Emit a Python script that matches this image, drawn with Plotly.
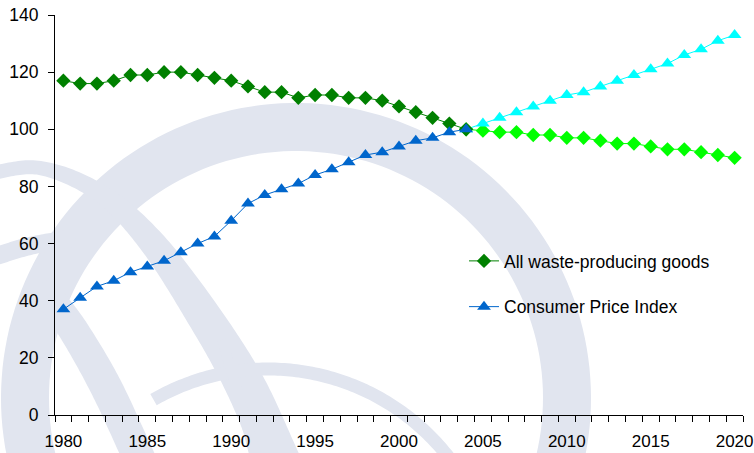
import numpy as np
import plotly.graph_objects as go

# ---- data -------------------------------------------------------------
years_hist = list(range(1980, 2005))
years_proj = list(range(2004, 2021))

waste_hist = [117, 116, 116, 117, 119, 119, 120, 120, 119, 118, 117, 115, 113,
              113, 111, 112, 112, 111, 111, 110, 108, 106, 104, 102, 100]
waste_proj = [100, 99.5, 99, 99, 98, 98, 97, 97, 96, 95, 95, 94, 93, 93, 92, 91, 90]

cpi_hist = [37, 41, 45, 47, 50, 52, 54, 57, 60, 62.5, 68, 74, 77, 79, 81, 84,
            86, 88.5, 91, 92, 94, 96, 97, 99, 100]
cpi_proj = [100, 102, 104, 106, 108, 110, 112, 113, 115, 117, 119, 121, 123,
            126, 128, 131, 133]

x_labels = [1980, 1985, 1990, 1995, 2000, 2005, 2010, 2015, 2020]

# ---- layout geometry --------------------------------------------------
W, H = 754, 453
ML, MR, MT, MB = 55, 11, 15, 38
PW, PH = W - ML - MR, H - MT - MB

WM_COLOR = "#e1e5ef"


def to_paper(px, py):
    return (px - ML) / PW, (H - MB - py) / PH


def catmull(points, n=24):
    pts = [np.array(p, float) for p in points]
    pts = [pts[0] * 2 - pts[1]] + pts + [pts[-1] * 2 - pts[-2]]
    out = []
    for i in range(1, len(pts) - 2):
        p0, p1, p2, p3 = pts[i - 1], pts[i], pts[i + 1], pts[i + 2]
        for t in np.linspace(0, 1, n, endpoint=False):
            t2, t3 = t * t, t * t * t
            out.append(0.5 * ((2 * p1) + (-p0 + p2) * t +
                              (2 * p0 - 5 * p1 + 4 * p2 - p3) * t2 +
                              (-p0 + 3 * p1 - 3 * p2 + p3) * t3))
    out.append(pts[-2])
    return np.array(out)


def band_path(center, widths):
    c = np.asarray(center, float)
    w = np.interp(np.linspace(0, 1, len(c)), np.linspace(0, 1, len(widths)), widths)
    d = np.gradient(c, axis=0)
    d /= np.linalg.norm(d, axis=1)[:, None]
    nrm = np.stack([-d[:, 1], d[:, 0]], axis=1)
    a = c + nrm * (w[:, None] / 2)
    b = c - nrm * (w[:, None] / 2)
    poly = np.vstack([a, b[::-1]])
    coords = [to_paper(x, y) for x, y in poly]
    return "M " + " L ".join(f"{x:.4f},{y:.4f}" for x, y in coords) + " Z"


def arc(cx, cy, r, t0, t1, n=120):
    t = np.radians(np.linspace(t0, t1, n))
    return np.stack([cx + r * np.cos(t), cy - r * np.sin(t)], axis=1)


# watermark globe: arcs and meridians
bands = [
    (arc(296, 398, 271, 205, -25), [48]),
    (catmull([(-15, 174), (40, 168), (100, 193), (150, 240), (200, 310),
              (245, 385), (280, 465)]), [14, 14, 18, 26, 34, 40, 44]),
    (catmull([(-10, 258), (30, 246), (75, 238)]), [18, 18, 18]),
    (catmull([(40, 285), (70, 325), (105, 385), (140, 460)]), [26, 30, 32, 32]),
    (arc(268, 598, 229, 120, 28), [13]),
    (catmull([(222, 340), (240, 400), (258, 465)]), [10, 10, 12]),
]

shapes = [dict(type="path", xref="paper", yref="paper", layer="below",
               path=band_path(c, w), fillcolor=WM_COLOR,
               line=dict(width=0)) for c, w in bands]

# ---- traces -----------------------------------------------------------
DARK_GREEN = "#008000"
LIGHT_GREEN = "#00ff00"
BLUE = "#0066cc"
CYAN = "#00ffff"

DIAMOND = 11
TRIANGLE = 12

fig = go.Figure()

fig.add_trace(go.Scatter(
    x=years_proj, y=waste_proj, mode="lines+markers", showlegend=False,
    line=dict(color=LIGHT_GREEN, width=1),
    marker=dict(symbol="diamond", size=DIAMOND, color=LIGHT_GREEN)))
fig.add_trace(go.Scatter(
    x=years_proj, y=cpi_proj, mode="lines+markers", showlegend=False,
    line=dict(color=CYAN, width=1),
    marker=dict(symbol="triangle-up", size=TRIANGLE, color=CYAN)))
fig.add_trace(go.Scatter(
    x=years_hist, y=waste_hist, mode="lines+markers",
    name="All waste-producing goods", legendgroup="a",
    line=dict(color=DARK_GREEN, width=1),
    marker=dict(symbol="diamond", size=DIAMOND, color=DARK_GREEN)))
fig.add_trace(go.Scatter(
    x=years_hist, y=cpi_hist, mode="lines+markers",
    name="Consumer Price Index", legendgroup="b",
    line=dict(color=BLUE, width=1),
    marker=dict(symbol="triangle-up", size=TRIANGLE, color=BLUE)))

FONT = "Liberation Sans, Arial, sans-serif"

fig.update_layout(
    width=W, height=H,
    margin=dict(l=ML, r=MR, t=MT, b=MB, pad=0, autoexpand=False),
    paper_bgcolor="white",
    plot_bgcolor="rgba(0,0,0,0)",
    font=dict(family=FONT, size=17, color="#000"),
    shapes=shapes,
    legend=dict(x=(464 - ML) / PW, y=(H - MB - 243) / PH,
                xanchor="left", yanchor="top",
                bgcolor="rgba(0,0,0,0)", font=dict(size=17.5),
                tracegroupgap=20, traceorder="grouped", itemwidth=30),
    xaxis=dict(range=[1979.5, 2020.5], showline=True, linecolor="#000",
               linewidth=1, showgrid=False, zeroline=False, automargin=False,
               tickmode="array", tickvals=x_labels,
               ticktext=[str(v) for v in x_labels], ticks="",
               ticklabelstandoff=11, tickfont=dict(size=17),
               minor=dict(ticks="outside", tick0=1979.5, dtick=1,
                          ticklen=6, tickcolor="#000", tickwidth=1,
                          showgrid=False)),
    yaxis=dict(range=[0, 140], dtick=20, showline=True, linecolor="#000",
               linewidth=1, showgrid=False, zeroline=False, automargin=False,
               ticks="outside", ticklen=6, tickcolor="#000",
               ticklabelstandoff=6, tickfont=dict(size=17.5)),
)

fig.write_html("out.html")
